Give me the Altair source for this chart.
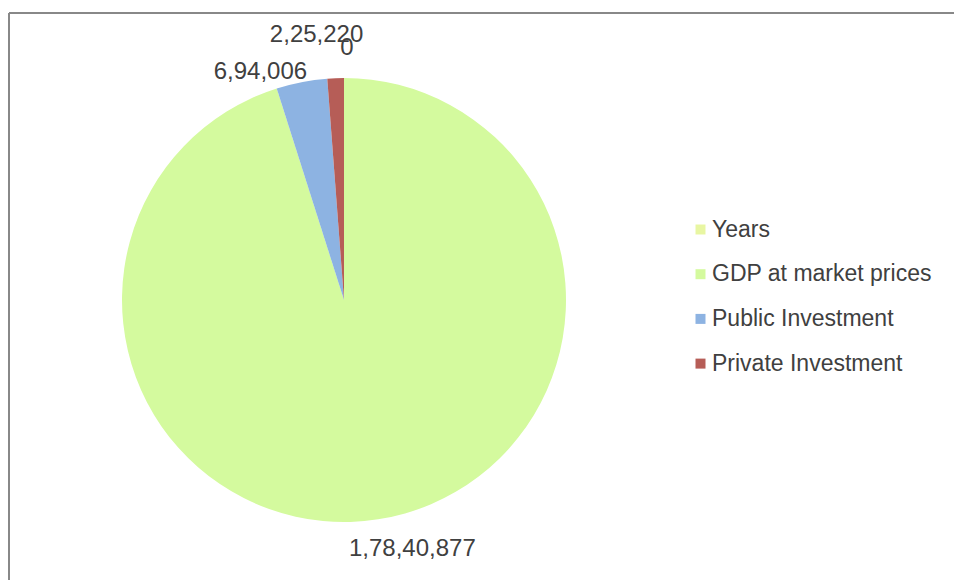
import altair as alt
import pandas as pd

categories = ["Years", "GDP at market prices", "Public Investment", "Private Investment"]
values = [0, 17840877, 694006, 225220]
colors = ["#E8F6A2", "#D4FA9E", "#8DB3E2", "#B65D57"]


def indian_format(n):
    s = str(int(n))
    if len(s) <= 3:
        return s
    head, tail = s[:-3], s[-3:]
    parts = []
    while len(head) > 2:
        parts.insert(0, head[-2:])
        head = head[:-2]
    if head:
        parts.insert(0, head)
    return ",".join(parts) + "," + tail


labels = [indian_format(v) for v in values]

df = pd.DataFrame({
    "category": categories,
    "value": values,
    "label": labels,
    "order": list(range(len(categories))),
})

FONT = "Liberation Sans"
TEXT_COLOR = "#404040"

base = alt.Chart(df).encode(
    theta=alt.Theta("value:Q", stack=True),
    order=alt.Order("order:Q"),
)

pie = base.mark_arc(stroke=None).encode(
    color=alt.Color(
        "category:N",
        sort=categories,
        scale=alt.Scale(domain=categories, range=colors),
        legend=alt.Legend(
            title=None,
            orient="none",
            legendX=567,
            legendY=140,
            symbolType="square",
            symbolSize=100,
            symbolStrokeWidth=0,
            labelFont=FONT,
            labelFontSize=23,
            labelColor=TEXT_COLOR,
            labelOffset=0,
            labelLimit=0,
            rowPadding=20.7,
        ),
    )
)

offsets = {
    "Years": (3, -2),
    "GDP at market prices": (30, 2),
    "Public Investment": (-36, 17),
    "Private Investment": (-18, -15),
}

label_layers = []
for cat in categories:
    dx, dy = offsets[cat]
    label_layers.append(
        base.mark_text(
            radius=250, font=FONT, fontSize=24, color=TEXT_COLOR, dx=dx, dy=dy
        ).encode(
            text=alt.condition(
                alt.datum.category == cat, alt.Text("label:N"), alt.value("")
            )
        )
    )

border_top = alt.Chart(df).mark_rule(color="#888888", strokeWidth=2).encode(
    x=alt.value(-113), x2=alt.value(840), y=alt.value(-65)
)
border_left = alt.Chart(df).mark_rule(color="#888888", strokeWidth=2).encode(
    x=alt.value(-113), y=alt.value(-65), y2=alt.value(510)
)

chart = alt.layer(border_top, border_left, pie, *label_layers).properties(
    width=444,
    height=444,
    padding={"left": 122, "top": 78, "right": 388, "bottom": 58},
    autosize=alt.AutoSizeParams(type="none"),
    background="white",
).configure_view(stroke=None)

chart.save("out.html", embed_options={"renderer": "svg", "actions": False})
